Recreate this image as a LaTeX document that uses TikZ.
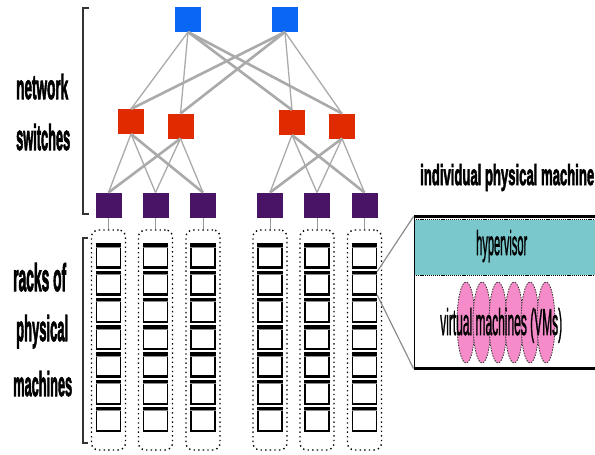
\documentclass[tikz,border=0pt]{standalone}
\usepackage{fontspec}
\usepackage{graphicx}
\setmainfont{Liberation Sans}
\newfontfamily\headfont[FakeBold=3]{Liberation Sans Bold}
\newfontfamily\bodyfont[FakeBold=2]{Liberation Sans}
\usetikzlibrary{shapes.geometric}

\definecolor{coreblue}{HTML}{0A66F5}
\definecolor{aggred}{HTML}{E02A00}
\definecolor{torpurple}{HTML}{4A1466}
\definecolor{linkgray}{HTML}{AAAAAA}
\definecolor{hyperteal}{HTML}{7AC7CC}
\definecolor{vmpink}{HTML}{F58BC9}
\definecolor{bracketgray}{HTML}{333333}

% squeeze a label into a given width and height (in pt)
\newcommand\fitlabel[3]{\resizebox{#1pt}{#2pt}{\fontsize{30}{30}\selectfont #3}}

\begin{document}
\begin{tikzpicture}[x=1pt,y=-1pt,
  switchbox/.style={minimum width=26pt,minimum height=25pt,inner sep=0pt,outer sep=0pt},
  core/.style={switchbox,fill=coreblue},
  agg/.style={switchbox,fill=aggred},
  tor/.style={switchbox,fill=torpurple},
  thin link/.style={draw=linkgray,line width=1.3pt},
  thick link/.style={draw=linkgray,line width=2.6pt},
  rack/.style={draw=black,line width=1.4pt,dash pattern=on 1.4pt off 3.2pt,
    rounded corners=7pt,minimum width=34pt,minimum height=220pt,inner sep=0pt},
  server/.style={draw=black,line width=1.4pt,fill=white,minimum width=24pt,
    minimum height=22pt,inner sep=0pt},
  bracket/.style={draw=bracketgray,line width=2pt},
  label/.style={inner sep=0pt,anchor=base west},
  vm/.style={ellipse,fill=vmpink,draw=black!80,line width=0.8pt,
    dash pattern=on 1.5pt off 1.2pt,minimum width=18pt,minimum height=81pt,inner sep=0pt},
  zoomline/.style={draw=black!45,line width=1.2pt}
]
\useasboundingbox (0,0) rectangle (595,455);

% ---- switch tiers ----
\node[core] (c1) at (188,19.5) {};
\node[core] (c2) at (285,19.5) {};

\node[agg] (a1) at (131,121.5) {};
\node[agg] (a2) at (180.5,126) {};
\node[agg] (a3) at (292,122.5) {};
\node[agg] (a4) at (342,126) {};

\node[tor] (t1) at (108.5,205) {};
\node[tor] (t2) at (155.5,205) {};
\node[tor] (t3) at (203,205) {};
\node[tor] (t4) at (270,205) {};
\node[tor] (t5) at (317,205) {};
\node[tor] (t6) at (364.5,205) {};

% core -> aggregation
\draw[thin link] (c1.south) -- (a1.north);
\draw[thin link] (c1.south) -- (a2.north);
\draw[thick link] (c1.south) -- (a3.north);
\draw[thick link] (c1.south) -- (a4.north);
\draw[thick link] (c2.south) -- (a1.north);
\draw[thick link] (c2.south) -- (a2.north);
\draw[thin link] (c2.south) -- (a3.north);
\draw[thin link] (c2.south) -- (a4.north);

% aggregation -> top of rack
\draw[thin link] (a1.south) -- (t1.north);
\draw[thin link] (a1.south) -- (t2.north);
\draw[thick link] (a1.south) -- (t3.north);
\draw[thick link] (a2.south) -- (t1.north);
\draw[thin link] (a2.south) -- (t2.north);
\draw[thin link] (a2.south) -- (t3.north);
\draw[thin link] (a3.south) -- (t4.north);
\draw[thin link] (a3.south) -- (t5.north);
\draw[thick link] (a3.south) -- (t6.north);
\draw[thick link] (a4.south) -- (t4.north);
\draw[thin link] (a4.south) -- (t5.north);
\draw[thin link] (a4.south) -- (t6.north);

% ---- racks of servers ----
\foreach \x [count=\i] in {108.5,155.5,203,270,317,364.5} {
  \node[rack] (r\i) at (\x,340) {};
  \draw[draw=black!40,line width=0.9pt] (t\i.south) -- (r\i.north);
  \foreach \k in {0,...,6} {
    \node[server] (s\i-\k) at (\x,256+27.3*\k) {};
    \draw[line width=3.4pt] ([yshift=-0.6pt]s\i-\k.north west) -- ([yshift=-0.6pt]s\i-\k.north east);
    \draw[draw=black!45,line width=1pt] ([yshift=-2.8pt]s\i-\k.north west) -- ([yshift=-2.8pt]s\i-\k.north east);
    \draw[line width=2.4pt] ([yshift=0.4pt]s\i-\k.south west) -- ([yshift=0.4pt]s\i-\k.south east);
  }
}

% ---- brackets and side labels ----
\draw[bracket] (89,8) -- (83,8) -- (83,214) -- (89,214);
\draw[bracket] (88,238) -- (83,238) -- (83,443) -- (88,443);

\node[label] (lnet) at (16,99) {\fitlabel{52}{25}{\headfont network}};
\node[label] (lsw) at (16,150) {\fitlabel{54}{26}{\headfont switches}};
\node[label] (lracks) at (13,291) {\fitlabel{53}{28}{\headfont racks of}};
\node[label] (lphys) at (16,341) {\fitlabel{52}{26}{\headfont physical}};
\node[label] (lmach) at (13,396) {\fitlabel{59}{25}{\headfont machines}};

% ---- one physical machine, enlarged ----
\node[label] (title) at (420,185) {\fitlabel{174}{21}{\headfont individual physical machine}};

\node[fill=hyperteal,draw=black,line width=0.8pt,dash pattern=on 1.2pt off 0.9pt,
  minimum width=186pt,minimum height=55.5pt,inner sep=0pt] (hv) at (507,247.25) {};
\node[draw=black,line width=1pt,minimum width=186pt,minimum height=151pt,
  inner sep=0pt] (pm) at (507,292.5) {};
\draw[line width=3pt] (pm.north west) -- (pm.north east);
\draw[line width=3pt] (pm.south west) -- (pm.south east);

\node[label] (hvtext) at (476,255) {\fitlabel{51}{25}{\bodyfont hypervisor}};

\foreach \e in {0,...,5}
  \node[vm] (vm\e) at (466+16*\e,322.5) {};

\node[label] (vmtext) at (440,335) {\fitlabel{122}{27}{\bodyfont virtual machines (VMs)}};

\draw[zoomline] (s6-1.north east) -- (pm.north west);
\draw[zoomline] (s6-1.south east) -- (pm.south west);
\end{tikzpicture}
\end{document}
